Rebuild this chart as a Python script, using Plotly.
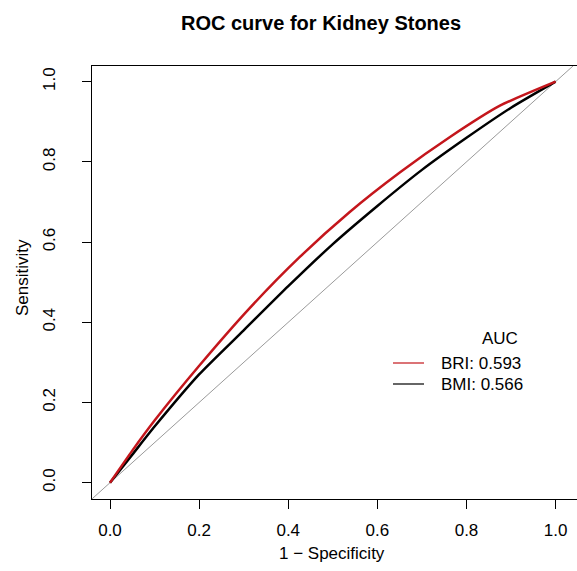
import plotly.graph_objects as go

# ROC points (1 - specificity, sensitivity)
bri_fpr = [0.0, 0.05, 0.1, 0.202, 0.314, 0.426, 0.538, 0.651, 0.763, 0.875, 1.0]
bri_tpr = [0.0, 0.08, 0.155, 0.294, 0.436, 0.563, 0.675, 0.774, 0.862, 0.94, 1.0]
bmi_fpr = [0.0, 0.05, 0.1, 0.2, 0.3, 0.4, 0.5, 0.6, 0.7, 0.8, 0.9, 1.0]
bmi_tpr = [0.0, 0.07, 0.14, 0.27, 0.38, 0.49, 0.595, 0.69, 0.78, 0.86, 0.935, 1.0]
ref_line = [-0.04, 1.04]
tick_vals = [0.0, 0.2, 0.4, 0.6, 0.8, 1.0]
tick_text = ["0.0", "0.2", "0.4", "0.6", "0.8", "1.0"]
auc_labels = ["BRI: 0.593", "BMI: 0.566"]

FONT = "Liberation Sans, Arial, sans-serif"
RED = "#C4161C"
FS = 17

fig = go.Figure()
fig.add_trace(go.Scatter(x=ref_line, y=ref_line, mode="lines",
                         line=dict(color="#9a9a9a", width=1), showlegend=False,
                         hoverinfo="skip"))
fig.add_trace(go.Scatter(x=bmi_fpr, y=bmi_tpr, mode="lines", name=auc_labels[1],
                         line=dict(color="black", width=2.5, shape="spline", smoothing=0.6),
                         showlegend=False))
fig.add_trace(go.Scatter(x=bri_fpr, y=bri_tpr, mode="lines", name=auc_labels[0],
                         line=dict(color=RED, width=2.5, shape="spline", smoothing=0.6),
                         showlegend=False))

axis_common = dict(
    tickvals=tick_vals, ticktext=tick_text, ticks="outside", ticklen=9,
    tickwidth=1.2, tickcolor="black", showline=True, linecolor="black",
    linewidth=1.2, showgrid=False, zeroline=False, automargin=False,
    tickfont=dict(family=FONT, size=FS, color="black"),
)

fig.update_layout(
    width=577, height=571,
    margin=dict(l=92, r=0, t=66, b=72),
    paper_bgcolor="white", plot_bgcolor="white",
    font=dict(family=FONT, color="black"),
    xaxis=dict(range=[-0.0404, 1.048], mirror=True, ticklabelstandoff=6, **axis_common),
    yaxis=dict(range=[-0.0406, 1.039], mirror=False, tickangle=-90,
               ticklabelstandoff=20, **axis_common),
    showlegend=False,
)

def px(x):
    return (x - 92) / 485

def py(y):
    return (499 - y) / 433

anns = [
    dict(text="<b>ROC curve for Kidney Stones</b>", x=px(321), y=py(23),
         font=dict(size=20, family=FONT), xanchor="center", yanchor="middle"),
    dict(text="1 \u2212 Specificity", x=px(332), y=py(553),
         font=dict(size=FS, family=FONT), xanchor="center", yanchor="middle"),
    dict(text="Sensitivity", x=px(22), y=py(278), textangle=-90,
         font=dict(size=FS, family=FONT), xanchor="center", yanchor="middle"),
    dict(text="AUC", x=px(500), y=py(338),
         font=dict(size=FS, family=FONT), xanchor="center", yanchor="middle"),
    dict(text=auc_labels[0], x=px(439), y=py(363),
         font=dict(size=FS, family=FONT), xanchor="left", yanchor="middle"),
    dict(text=auc_labels[1], x=px(439), y=py(384),
         font=dict(size=FS, family=FONT), xanchor="left", yanchor="middle"),
]
for a in anns:
    a.update(xref="paper", yref="paper", showarrow=False)
fig.update_layout(annotations=anns)

fig.add_shape(type="line", xref="paper", yref="paper",
              x0=px(393), x1=px(424), y0=py(363), y1=py(363),
              line=dict(color=RED, width=1.2))
fig.add_shape(type="line", xref="paper", yref="paper",
              x0=px(393), x1=px(424), y0=py(384), y1=py(384),
              line=dict(color="black", width=1.2))

fig.write_html("out.html", config={"displayModeBar": False},
               post_script="document.body.style.margin='0';document.body.style.overflow='hidden';")
